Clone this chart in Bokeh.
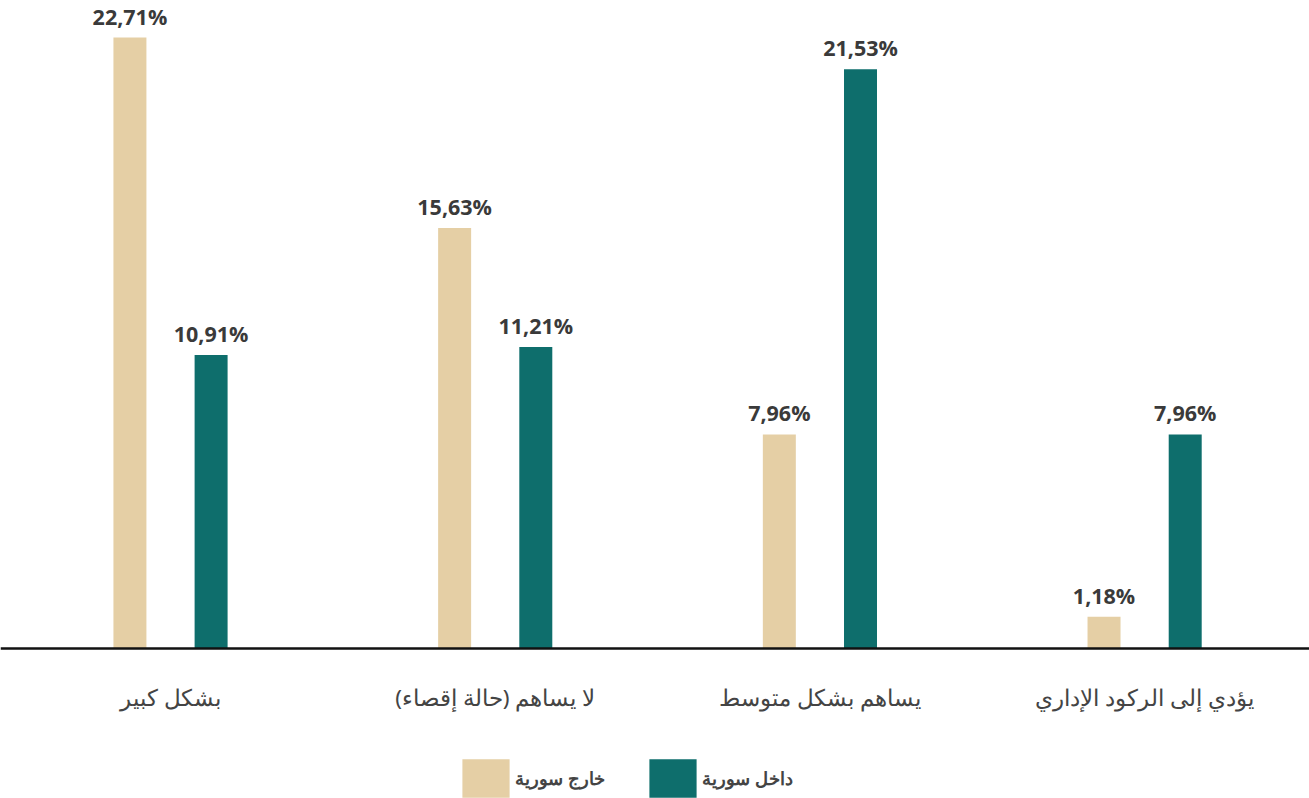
from bokeh.plotting import figure
from bokeh.models import Range1d, Span, Legend, LegendItem, ColumnDataSource
from bokeh.core.properties import value
from bokeh.embed import file_html
from bokeh.resources import INLINE

categories = ["بشكل كبير", "لا يساهم (حالة إقصاء)", "يساهم بشكل متوسط", "يؤدي إلى الركود الإداري"]
outside = [22.71, 15.63, 7.96, 1.18]   # خارج سورية
inside = [10.91, 11.21, 21.53, 7.96]   # داخل سورية
series_names = ["خارج سورية", "داخل سورية"]

BEIGE = "#E5CFA5"
TEAL = "#0E6E6C"
W, H = 1309, 798

def fmt(v):
    return f"{v:.2f}".replace(".", ",") + "%"

idx = list(range(len(categories)))
off = 0.125
src_out = ColumnDataSource(dict(x=[i - off for i in idx], top=outside, lab=[fmt(v) for v in outside]))
src_in = ColumnDataSource(dict(x=[i + off for i in idx], top=inside, lab=[fmt(v) for v in inside]))
src_cat = ColumnDataSource(dict(x=idx, y=[0] * len(idx), lab=categories))

p = figure(width=W, height=H, output_backend="svg", toolbar_location=None,
           x_range=Range1d(-0.5236, 3.5078), y_range=Range1d(-5.576, 24.09),
           x_axis_location=None, y_axis_location=None, min_border=0)
p.outline_line_color = None
p.xgrid.visible = False
p.ygrid.visible = False

r_out = p.vbar(x="x", top="top", width=0.1016, bottom=0, source=src_out, fill_color=BEIGE, line_color=None)
r_in = p.vbar(x="x", top="top", width=0.1016, bottom=0, source=src_in, fill_color=TEAL, line_color=None)

p.add_layout(Span(location=0, dimension="width", line_color="#111111", line_width=2.5))

for s in (src_out, src_in):
    p.text(x="x", y="top", text="lab", source=s, text_align="center", text_baseline="bottom",
           y_offset=-7, text_font=value("Open Sans"), text_font_style="bold",
           text_font_size="21.5px", text_color="#3a3a3a")

p.text(x="x", y="y", text="lab", source=src_cat, text_align="center", text_baseline="middle",
       y_offset=49, text_font=value("Noto Sans"), text_font_size="22.5px", text_color="#444444")

for r, name, loc in ((r_out, series_names[0], (456, -4)), (r_in, series_names[1], (643, -4))):
    lg = Legend(items=[LegendItem(label=name, renderers=[r])], location=loc,
                orientation="horizontal", glyph_width=59, glyph_height=48, label_standoff=0,
                padding=0, margin=0, border_line_color=None, background_fill_alpha=0,
                label_text_font="Noto Sans", label_text_font_style="bold",
                label_text_font_size="18px", label_text_color="#444444")
    p.add_layout(lg, "center")

open("out.html", "w").write(file_html(p, INLINE))
